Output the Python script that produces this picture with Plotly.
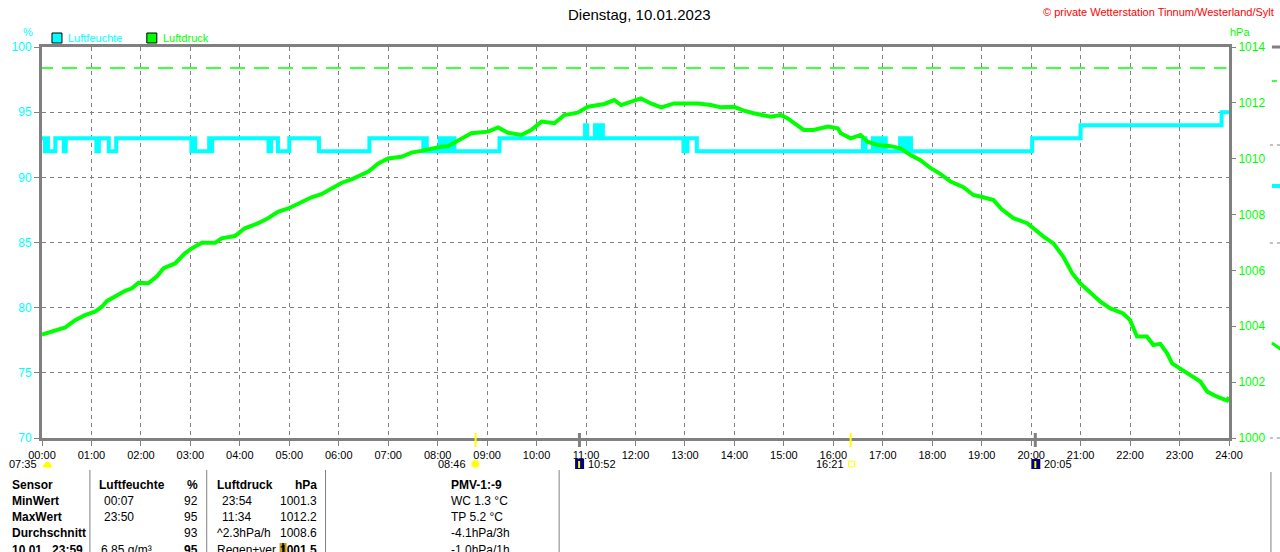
import plotly.graph_objects as go

# ---------------- data ----------------
hum_time = [0.00, 0.06, 0.10, 0.12, 0.27, 0.44, 0.48, 1.10, 1.15, 1.35, 1.50,
            3.02, 3.07, 3.10, 3.38, 3.40, 3.44, 4.58, 4.63, 4.77, 5.00, 5.60,
            6.62, 7.71, 7.74, 7.78, 8.04, 8.10, 8.15, 8.22, 8.28, 8.34, 9.25,
            10.98, 11.02, 11.18, 11.23, 11.26, 11.34, 12.97, 13.05, 13.24,
            16.60, 16.65, 16.80, 16.84, 16.88, 16.92, 16.96, 17.00, 17.04, 17.06,
            17.35, 17.40, 17.45, 17.50, 17.54, 17.57, 20.02, 21.00, 23.85, 24.00]
hum_value = [93, 92, 93, 92, 93, 92, 93, 92, 93, 92, 93,
             92, 93, 92, 93, 92, 93, 92, 93, 92, 93, 92,
             93, 92, 93, 92, 93, 92, 93, 92, 93, 92, 93,
             94, 93, 94, 93, 94, 93, 92, 93, 92,
             93, 92, 93, 92, 93, 92, 93, 92, 93, 92,
             93, 92, 93, 92, 93, 92, 93, 94, 95, 95]

press_time = [0.00, 0.20, 0.47, 0.67, 0.87, 1.07, 1.21, 1.31, 1.48, 1.68, 1.82, 1.95,
              2.15, 2.32, 2.46, 2.69, 2.89, 3.03, 3.23, 3.50, 3.63, 3.90, 4.10, 4.37,
              4.57, 4.77, 4.98, 5.25, 5.45, 5.65, 5.85, 6.06, 6.26, 6.46, 6.60, 6.80,
              7.00, 7.27, 7.47, 7.67, 7.87, 8.07, 8.21, 8.42, 8.68, 9.02, 9.22, 9.42,
              9.69, 9.89, 10.10, 10.36, 10.56, 10.83, 11.04, 11.37, 11.57, 11.71, 11.91,
              12.11, 12.31, 12.52, 12.78, 13.06, 13.26, 13.52, 13.73, 13.99, 14.19, 14.39,
              14.60, 14.73, 14.94, 15.07, 15.40, 15.60, 15.89, 16.09, 16.15, 16.35, 16.55,
              16.69, 16.90, 17.16, 17.36, 17.56, 17.76, 17.97, 18.17, 18.37, 18.63, 18.83,
              19.03, 19.24, 19.40, 19.64, 19.92, 20.04, 20.25, 20.45, 20.65, 20.83, 20.99,
              21.20, 21.40, 21.60, 21.86, 22.00, 22.14, 22.34, 22.47, 22.61, 22.75, 22.85,
              23.01, 23.21, 23.42, 23.56, 23.76, 23.96, 24.00]
press_value = [1003.70, 1003.81, 1003.96, 1004.22, 1004.40, 1004.52, 1004.70, 1004.90, 1005.06,
               1005.27, 1005.36, 1005.56, 1005.54, 1005.78, 1006.08, 1006.25, 1006.61, 1006.79,
               1006.99, 1006.99, 1007.15, 1007.23, 1007.51, 1007.69, 1007.87, 1008.10, 1008.22,
               1008.46, 1008.62, 1008.73, 1008.94, 1009.14, 1009.26, 1009.42, 1009.54, 1009.83,
               1010.01, 1010.07, 1010.22, 1010.28, 1010.37, 1010.43, 1010.45, 1010.67, 1010.91,
               1010.97, 1011.12, 1010.93, 1010.85, 1011.03, 1011.33, 1011.27, 1011.56, 1011.65,
               1011.86, 1011.96, 1012.10, 1011.92, 1012.04, 1012.16, 1011.98, 1011.84, 1011.98,
               1011.96, 1011.98, 1011.92, 1011.84, 1011.86, 1011.72, 1011.63, 1011.56, 1011.50,
               1011.56, 1011.45, 1011.03, 1011.03, 1011.15, 1011.09, 1010.91, 1010.73, 1010.85,
               1010.61, 1010.49, 1010.45, 1010.37, 1010.13, 1009.95, 1009.66, 1009.45, 1009.18,
               1008.98, 1008.70, 1008.62, 1008.52, 1008.20, 1007.87, 1007.69, 1007.51, 1007.21,
               1006.97, 1006.49, 1005.90, 1005.54, 1005.20, 1004.88, 1004.64, 1004.46, 1004.22,
               1003.63, 1003.63, 1003.33, 1003.37, 1003.03, 1002.67, 1002.50, 1002.26, 1002.02,
               1001.66, 1001.48, 1001.34, 1001.46]

std_pressure = 1013.25
hour_ticks = list(range(25))
hour_labels = ["%02d:00" % h for h in hour_ticks]
hum_ticks = [70, 75, 80, 85, 90, 95, 100]
press_ticks = [1000, 1002, 1004, 1006, 1008, 1010, 1012, 1014]

sun_events = [(7 + 35 / 60, "07:35"), (8 + 46 / 60, "08:46"), (16 + 21 / 60, "16:21")]
moon_events = [(10 + 52 / 60, "10:52"), (20 + 5 / 60, "20:05")]

table_col1 = ["Sensor", "MinWert", "MaxWert", "Durchschnitt", "10.01.  23:59"]
table_hum_time = ["Luftfeuchte", "00:07", "23:50", "", "6.85 g/m³"]
table_hum_val = ["%", "92", "95", "93", "95"]
table_press_time = ["Luftdruck", "23:54", "11:34", "^2.3hPa/h", "Regen+ver"]
table_press_val = ["hPa", "1001.3", "1012.2", "1008.6", "1001.5"]
table_extra = ["PMV-1:-9", "WC 1.3 °C", "TP 5.2 °C", "-4.1hPa/3h", "-1.0hPa/1h"]

# ---------------- styling ----------------
CYAN = "#00FFFF"
GREEN = "#00FF00"
GRAY = "#808080"
FONT = "Liberation Sans"

L, R, T, B = 40, 1229, 47, 438
W, H = R - L, B - T


def px(x):
    return (x - L) / W


def py(y):
    return (B - y) / H


fig = go.Figure()
fig.add_trace(go.Scatter(x=hum_time, y=hum_value, mode="lines", line_shape="hv",
                         line=dict(color=CYAN, width=4), name="Luftfeuchte",
                         yaxis="y", hoverinfo="skip"))
fig.add_trace(go.Scatter(x=press_time, y=press_value, mode="lines",
                         line=dict(color=GREEN, width=4), name="Luftdruck",
                         yaxis="y2", hoverinfo="skip"))

shapes = []
ann = []

# standard pressure dashed line
shapes.append(dict(type="line", xref="x", yref="y2", x0=-0.08, x1=23.95,
                   y0=std_pressure, y1=std_pressure,
                   line=dict(color=GREEN, width=1.5, dash="15px,9px"), layer="below"))

# legend
for x0, col, label in [(50, CYAN, "Luftfeuchte"), (145, GREEN, "Luftdruck")]:
    shapes.append(dict(type="rect", xref="paper", yref="paper",
                       x0=px(x0), x1=px(x0 + 10), y0=py(43), y1=py(33),
                       fillcolor=col, line=dict(color="black", width=1)))
    ann.append(dict(text=label, x=px(x0 + 14), y=py(38), xref="paper", yref="paper",
                    xanchor="left", yanchor="middle", showarrow=False,
                    font=dict(color=col, size=11, family=FONT)))

ann.append(dict(text="%", x=px(26), y=py(32), xref="paper", yref="paper", showarrow=False,
                xanchor="center", yanchor="middle", font=dict(color=CYAN, size=11, family=FONT)))
ann.append(dict(text="hPa", x=px(1240), y=py(32), xref="paper", yref="paper", showarrow=False,
                xanchor="center", yanchor="middle", font=dict(color=GREEN, size=11, family=FONT)))
ann.append(dict(text="Dienstag, 10.01.2023", x=px(639), y=py(15), xref="paper", yref="paper",
                showarrow=False, xanchor="center", yanchor="middle",
                font=dict(color="black", size=15, family=FONT)))
ann.append(dict(text="© private Wetterstation Tinnum/Westerland/Sylt", x=px(1276), y=py(12),
                xref="paper", yref="paper", showarrow=False, xanchor="right", yanchor="middle",
                font=dict(color="red", size=11, family=FONT)))

# sun / moon events below axis
for t, lab in sun_events:
    if lab != "07:35":
        shapes.append(dict(type="line", xref="x", yref="paper", x0=t, x1=t,
                           y0=py(447), y1=py(433), line=dict(color="#FFFF00", width=2)))
for t, lab in moon_events:
    shapes.append(dict(type="line", xref="x", yref="paper", x0=t, x1=t,
                       y0=py(447), y1=py(433), line=dict(color=GRAY, width=3)))

# 07:35 label + half sun
ann.append(dict(text="07:35", x=px(37), y=py(464), xref="paper", yref="paper", showarrow=False,
                xanchor="right", yanchor="middle", font=dict(size=11, family=FONT, color="black")))
shapes.append(dict(type="path", xref="paper", yref="paper",
                   path="M %f %f Q %f %f %f %f Z" % (px(41), py(467), px(45.5), py(457), px(50), py(467)),
                   fillcolor="#FFFF00", line=dict(color="#FFFF00", width=1)))
# 08:46 sun
ann.append(dict(text="08:46", x=px(467), y=py(464), xref="paper", yref="paper", showarrow=False,
                xanchor="right", yanchor="middle", font=dict(size=11, family=FONT, color="black")))
shapes.append(dict(type="circle", xref="paper", yref="paper", x0=px(470), x1=px(478),
                   y0=py(468), y1=py(460), fillcolor="#FFFF00", line=dict(color="#FFFF88", width=1)))
# 16:21
ann.append(dict(text="16:21", x=px(845), y=py(464), xref="paper", yref="paper", showarrow=False,
                xanchor="right", yanchor="middle", font=dict(size=11, family=FONT, color="black")))
shapes.append(dict(type="rect", xref="paper", yref="paper", x0=px(848), x1=px(854),
                   y0=py(467), y1=py(461), fillcolor="white", line=dict(color="#FFFF00", width=1)))
# moon icons
for xi, lab in [(574, "10:52"), (1031, "20:05")]:
    shapes.append(dict(type="rect", xref="paper", yref="paper", x0=px(xi), x1=px(xi + 9),
                       y0=py(469), y1=py(459), fillcolor="#000080", line=dict(width=0)))
    shapes.append(dict(type="line", xref="paper", yref="paper", x0=px(xi + 4), x1=px(xi + 4),
                       y0=py(468), y1=py(461), line=dict(color="#FFFF00", width=2)))
    ann.append(dict(text=lab, x=px(xi + 11), y=py(464), xref="paper", yref="paper", showarrow=False,
                    xanchor="left", yanchor="middle", font=dict(size=11, family=FONT, color="black")))

# table
row_y = [485, 501, 517, 533, 550]
for i, yy in enumerate(row_y):
    bold_row = (i == 0)

    def txt(s, bold):
        return "<b>%s</b>" % s if bold else s

    cells = [
        (8, "left", table_col1[i], True),
        (95 if i == 0 else 100 if i < 4 else 97, "left", table_hum_time[i], bold_row),
        (198, "right", table_hum_val[i], bold_row or i == 4),
        (213 if i in (0, 3, 4) else 218, "left", table_press_time[i], bold_row),
        (317, "right", table_press_val[i], bold_row or i == 4),
        (448, "left", table_extra[i], bold_row),
    ]
    for xx, anc, s, b in cells:
        if not s:
            continue
        ann.append(dict(text=txt(s, b), x=px(xx), y=py(yy), xref="paper", yref="paper",
                        showarrow=False, xanchor=anc, yanchor="middle",
                        font=dict(size=12, family=FONT, color="black")))

# small rain-trend arrow icon in the table
shapes.append(dict(type="rect", xref="paper", yref="paper", x0=px(278), x1=px(285),
                   y0=py(552), y1=py(543), fillcolor="#C8A000", line=dict(width=0)))
shapes.append(dict(type="line", xref="paper", yref="paper", x0=px(281.5), x1=px(281.5),
                   y0=py(552), y1=py(543), line=dict(color="#202060", width=2)))

for xs in [88, 205, 324, 558]:
    shapes.append(dict(type="line", xref="paper", yref="paper", x0=px(xs), x1=px(xs),
                       y0=py(470), y1=py(560), line=dict(color=GRAY, width=1)))
shapes.append(dict(type="line", xref="paper", yref="paper", x0=px(1271), x1=px(1271),
                   y0=py(472), y1=py(560), line=dict(color=GRAY, width=1)))

# fragments of neighbouring chart at the right edge
shapes.append(dict(type="line", xref="paper", yref="paper", x0=px(1272), x1=px(1282),
                   y0=py(47), y1=py(47), line=dict(color=GRAY, width=3)))
shapes.append(dict(type="line", xref="paper", yref="paper", x0=px(1272), x1=px(1277),
                   y0=py(81), y1=py(81), line=dict(color=GREEN, width=1.5)))
shapes.append(dict(type="line", xref="paper", yref="paper", x0=px(1272), x1=px(1282),
                   y0=py(186), y1=py(186), line=dict(color=CYAN, width=4)))
for yy in [145, 243, 438]:
    shapes.append(dict(type="line", xref="paper", yref="paper", x0=px(1270), x1=px(1282),
                       y0=py(yy), y1=py(yy), line=dict(color=GRAY, width=1, dash="3px,4px")))
shapes.append(dict(type="line", xref="paper", yref="paper", x0=px(1272), x1=px(1282),
                   y0=py(343), y1=py(350), line=dict(color=GREEN, width=3)))

fig.update_layout(
    width=1280, height=552,
    margin=dict(l=L, r=1280 - R, t=T, b=552 - B, pad=0),
    paper_bgcolor="white", plot_bgcolor="white",
    showlegend=False,
    font=dict(family=FONT, size=11, color="black"),
    xaxis=dict(range=[0, 24], tickvals=hour_ticks, ticktext=hour_labels,
               showgrid=True, gridcolor=GRAY, griddash="4px,4px", gridwidth=1,
               showline=True, linecolor=GRAY, linewidth=3, mirror=True,
               ticks="outside", ticklen=5, tickcolor=GRAY, tickwidth=1,
               tickfont=dict(size=11, family=FONT, color="black"), zeroline=False,
               fixedrange=True),
    yaxis=dict(range=[70, 100], tickvals=hum_ticks,
               showgrid=True, gridcolor=GRAY, griddash="4px,4px", gridwidth=1,
               showline=True, linecolor=GRAY, linewidth=3, mirror=True,
               ticks="outside", ticklen=5, tickcolor=GRAY, tickwidth=1,
               tickfont=dict(size=12, family=FONT, color=CYAN), zeroline=False,
               fixedrange=True),
    yaxis2=dict(range=[1000, 1014], tickvals=press_ticks, overlaying="y", side="right",
                showgrid=False, showline=False, ticks="outside", ticklen=6,
                tickcolor=GRAY, tickwidth=1,
                tickfont=dict(size=12, family=FONT, color=GREEN), zeroline=False,
                fixedrange=True),
    shapes=shapes,
    annotations=ann,
)

fig.write_html("out.html", config={"displayModeBar": False})

# remove the browser's default page margin so the figure sits at the window origin
with open("out.html", "r", encoding="utf-8") as f:
    html = f.read()
html = html.replace("<head>", "<head><style>html,body{margin:0;padding:0;overflow:hidden;}</style>", 1)
with open("out.html", "w", encoding="utf-8") as f:
    f.write(html)
